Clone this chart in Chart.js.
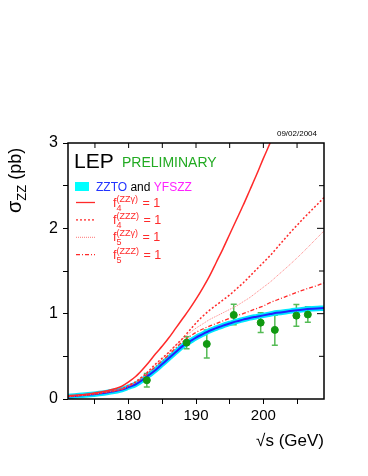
<!DOCTYPE html>
<html>
<head>
<meta charset="utf-8">
<script src="https://cdn.jsdelivr.net/npm/chart.js@4.4.1/dist/chart.umd.min.js"></script>
<style>
  html, body { margin: 0; padding: 0; background: #fff; }
  #wrap { width: 368px; height: 476px; position: relative; }
</style>
</head>
<body>
<div id="wrap"><canvas id="sigmaZZ" width="368" height="476"></canvas></div>
<script>
// sqrt(s) grid for the curves (GeV)
const energy = [171, 174, 177, 179, 180, 181, 182, 183, 184, 185, 186, 187, 188, 189, 190, 191, 192, 193, 194, 195, 196, 197, 198, 199, 200, 201, 202, 204, 206, 208, 209]

// standard model (ZZTO / YFSZZ)
const smXsec = [0.03, 0.05, 0.08, 0.11, 0.14, 0.17, 0.22, 0.28, 0.34, 0.41, 0.48, 0.55, 0.62, 0.67, 0.72, 0.76, 0.80, 0.83, 0.86, 0.885, 0.91, 0.93, 0.95, 0.965, 0.98, 0.995, 1.01, 1.03, 1.05, 1.06, 1.065]
// anomalous couplings
const f4gXsec = [0.035, 0.06, 0.1, 0.15, 0.2, 0.26, 0.34, 0.43, 0.53, 0.62, 0.72, 0.83, 0.94, 1.05, 1.17, 1.3, 1.44, 1.6, 1.76, 1.93, 2.1, 2.27, 2.45, 2.63, 2.82, 3.0, 3.19, null, null, null, null]
const f4zXsec = [0.03, 0.05, 0.085, 0.12, 0.16, 0.2, 0.26, 0.33, 0.41, 0.48, 0.55, 0.63, 0.71, 0.8, 0.89, 0.97, 1.04, 1.1, 1.16, 1.22, 1.29, 1.36, 1.44, 1.52, 1.6, 1.68, 1.77, 1.95, 2.12, 2.28, 2.36]
const f5gXsec = [0.03, 0.05, 0.085, 0.115, 0.15, 0.19, 0.25, 0.32, 0.4, 0.47, 0.55, 0.63, 0.70, 0.77, 0.83, 0.88, 0.93, 0.97, 1.01, 1.05, 1.09, 1.14, 1.19, 1.25, 1.31, 1.37, 1.44, 1.58, 1.73, 1.89, 1.97]
const f5zXsec = [0.03, 0.05, 0.085, 0.115, 0.15, 0.19, 0.24, 0.31, 0.38, 0.45, 0.52, 0.6, 0.67, 0.73, 0.78, 0.82, 0.855, 0.885, 0.915, 0.945, 0.975, 1.0, 1.03, 1.06, 1.09, 1.13, 1.16, 1.22, 1.28, 1.33, 1.36]

// LEP combined measurements
const dataEnergy = [182.7, 188.6, 191.6, 195.6, 199.6, 201.7, 204.9, 206.6]
const dataXsec = [0.22, 0.66, 0.645, 0.985, 0.895, 0.81, 0.977, 0.99]
const dataErrLow = [0.08, 0.07, 0.165, 0.115, 0.115, 0.18, 0.125, 0.09]
const dataErrHigh = [0.08, 0.07, 0.165, 0.125, 0.115, 0.17, 0.13, 0.09]

const xTicks = [180, 190, 200]
const yTicks = [0, 1, 2, 3]

const FONT = "'Liberation Sans', Arial, Helvetica, sans-serif"
const RED = "#ff2a2a"

function pts(ys) {
    return energy.map((x, i) => ({ x: x, y: ys[i] })).filter(p => p.y !== null)
}

const overlay = {
    id: "overlay",
    beforeDatasetsDraw(chart) {
        // error bars
        const ctx = chart.ctx
        const xs = chart.scales.x, ys = chart.scales.y
        ctx.save()
        ctx.strokeStyle = "#55bb55"
        ctx.lineWidth = 1.5
        dataEnergy.forEach((e, i) => {
            const px = xs.getPixelForValue(e)
            const lo = ys.getPixelForValue(dataXsec[i] - dataErrLow[i])
            const hi = ys.getPixelForValue(dataXsec[i] + dataErrHigh[i])
            ctx.beginPath()
            ctx.moveTo(px, lo); ctx.lineTo(px, hi)
            ctx.moveTo(px - 3, lo); ctx.lineTo(px + 3, lo)
            ctx.moveTo(px - 3, hi); ctx.lineTo(px + 3, hi)
            ctx.stroke()
        })
        ctx.restore()
    },
    afterDraw(chart) {
        const ctx = chart.ctx
        const a = chart.chartArea
        const xs = chart.scales.x, ys = chart.scales.y
        ctx.save()

        // frame
        ctx.strokeStyle = "#000"
        ctx.lineWidth = 1.5
        ctx.strokeRect(a.left, a.top, a.right - a.left, a.bottom - a.top)

        // mirrored ticks, inside on top and right
        ctx.lineWidth = 1
        for (let v = 175; v <= 205; v += 5) {
            const px = xs.getPixelForValue(v)
            ctx.beginPath(); ctx.moveTo(px, a.top); ctx.lineTo(px, a.top + 5); ctx.stroke()
        }
        for (let v = 0.5; v < 3; v += 0.5) {
            const py = ys.getPixelForValue(v)
            const len = Number.isInteger(v) ? 7 : 5
            ctx.beginPath(); ctx.moveTo(a.right, py); ctx.lineTo(a.right - len, py); ctx.stroke()
        }

        // date
        ctx.fillStyle = "#000"
        ctx.font = "8px " + FONT
        ctx.textAlign = "right"
        ctx.textBaseline = "alphabetic"
        ctx.fillText("09/02/2004", 317, 136)

        // axis titles
        ctx.font = "17px " + FONT
        ctx.fillText("\u221As (GeV)", a.right, 446)

        ctx.save()
        ctx.translate(21, 213)
        ctx.rotate(-Math.PI / 2)
        ctx.textAlign = "left"
        ctx.font = "20px " + FONT
        ctx.fillText("\u03C3", 0, 0)
        let w = ctx.measureText("\u03C3").width
        ctx.font = "13px " + FONT
        ctx.fillText("ZZ", w, 5)
        w += ctx.measureText("ZZ").width
        ctx.font = "18px " + FONT
        ctx.fillText(" (pb)", w, 0)
        ctx.restore()

        // header
        ctx.textAlign = "left"
        ctx.font = "21px " + FONT
        ctx.fillStyle = "#000"
        ctx.fillText("LEP", 74, 168)
        ctx.font = "14px " + FONT
        ctx.fillStyle = "#22aa22"
        ctx.fillText("PRELIMINARY", 122, 167)

        // SM legend entry
        ctx.fillStyle = "#00ffff"
        ctx.fillRect(75, 182, 14, 9)
        ctx.font = "12px " + FONT
        let x = 96
        const parts = [["ZZTO", "#2233ff"], [" and ", "#000"], ["YFSZZ", "#ff22ff"]]
        parts.forEach(p => {
            ctx.fillStyle = p[1]
            ctx.fillText(p[0], x, 190.5)
            x += ctx.measureText(p[0]).width
        })

        // anomalous coupling legend entries
        const entries = [
            { sub: "4", sup: "(ZZ\u03B3)", dash: [], lw: 1.3, color: RED },
            { sub: "4", sup: "(ZZZ)", dash: [2, 2], lw: 1.3, color: RED },
            { sub: "5", sup: "(ZZ\u03B3)", dash: [1, 1], lw: 1, color: "#ff7777" },
            { sub: "5", sup: "(ZZZ)", dash: [4, 2, 1, 2], lw: 1.2, color: RED }
        ]
        entries.forEach((en, i) => {
            const yl = 202.5 + i * 17.4
            ctx.strokeStyle = en.color
            ctx.lineWidth = en.lw
            ctx.setLineDash(en.dash)
            ctx.beginPath(); ctx.moveTo(76, yl); ctx.lineTo(95, yl); ctx.stroke()
            ctx.setLineDash([])
            ctx.fillStyle = RED
            let tx = 113
            const base = yl + 4
            ctx.font = "12.5px " + FONT
            ctx.fillText("f", tx, base)
            tx += ctx.measureText("f").width
            ctx.font = "9px " + FONT
            ctx.fillText(en.sub, tx, base + 4)
            ctx.fillText(en.sup, tx, base - 5)
            tx += ctx.measureText(en.sup).width + 1
            ctx.font = "12.5px " + FONT
            ctx.fillText(" = 1", tx, base)
        })

        ctx.restore()
    }
}

const curve = { showLine: true, pointRadius: 0, cubicInterpolationMode: "monotone" }

new Chart(document.getElementById("sigmaZZ"), {
    type: "scatter",
    data: {
        datasets: [
            { label: "data", data: dataEnergy.map((e, i) => ({ x: e, y: dataXsec[i] })), showLine: false,
              pointRadius: 3.5, pointBackgroundColor: "#119911", pointBorderColor: "#119911", order: 0 },
            { ...curve, label: "f4 ZZg", data: pts(f4gXsec), borderColor: RED, borderWidth: 1.5, order: 1 },
            { ...curve, label: "f4 ZZZ", data: pts(f4zXsec), borderColor: RED, borderWidth: 1.5,
              borderDash: [2, 2], order: 1 },
            { ...curve, label: "f5 ZZg", data: pts(f5gXsec), borderColor: "#ff8080", borderWidth: 1,
              borderDash: [1, 1], order: 1 },
            { ...curve, label: "f5 ZZZ", data: pts(f5zXsec), borderColor: RED, borderWidth: 1.3,
              borderDash: [4, 2, 1, 2], order: 1 },
            { ...curve, label: "SM", data: pts(smXsec), borderColor: "#2020ff", borderWidth: 2, order: 2 },
            { ...curve, label: "SM band", data: pts(smXsec), borderColor: "#00e8ff", borderWidth: 5.5, order: 3 }
        ]
    },
    options: {
        responsive: false,
        animation: false,
        devicePixelRatio: 1,
        layout: { padding: { top: 143, right: 44, left: 0, bottom: 0 } },
        plugins: { legend: { display: false }, tooltip: { enabled: false } },
        scales: {
            x: {
                type: "linear", min: 171, max: 209,
                afterFit: s => { s.height = 77 },
                afterBuildTicks: s => { s.ticks = [175, 180, 185, 190, 195, 200, 205].map(v => ({ value: v })) },
                ticks: {
                    autoSkip: false, maxRotation: 0, padding: 3, color: "#000",
                    font: { size: 15, family: FONT },
                    callback: v => xTicks.includes(v) ? String(v) : ""
                },
                grid: { drawOnChartArea: false, tickLength: 5, color: "#000", lineWidth: 1 },
                border: { display: false }
            },
            y: {
                min: 0, max: 3,
                afterFit: s => { s.width = 68 },
                afterBuildTicks: s => { s.ticks = [0, 0.5, 1, 1.5, 2, 2.5, 3].map(v => ({ value: v })) },
                ticks: {
                    autoSkip: false, padding: 5, color: "#000",
                    font: { size: 16, family: FONT },
                    callback: v => yTicks.includes(v) ? String(v) : ""
                },
                grid: { drawOnChartArea: false, tickLength: 5, color: "#000", lineWidth: 1 },
                border: { display: false }
            }
        }
    },
    plugins: [overlay]
})
</script>
</body>
</html>
